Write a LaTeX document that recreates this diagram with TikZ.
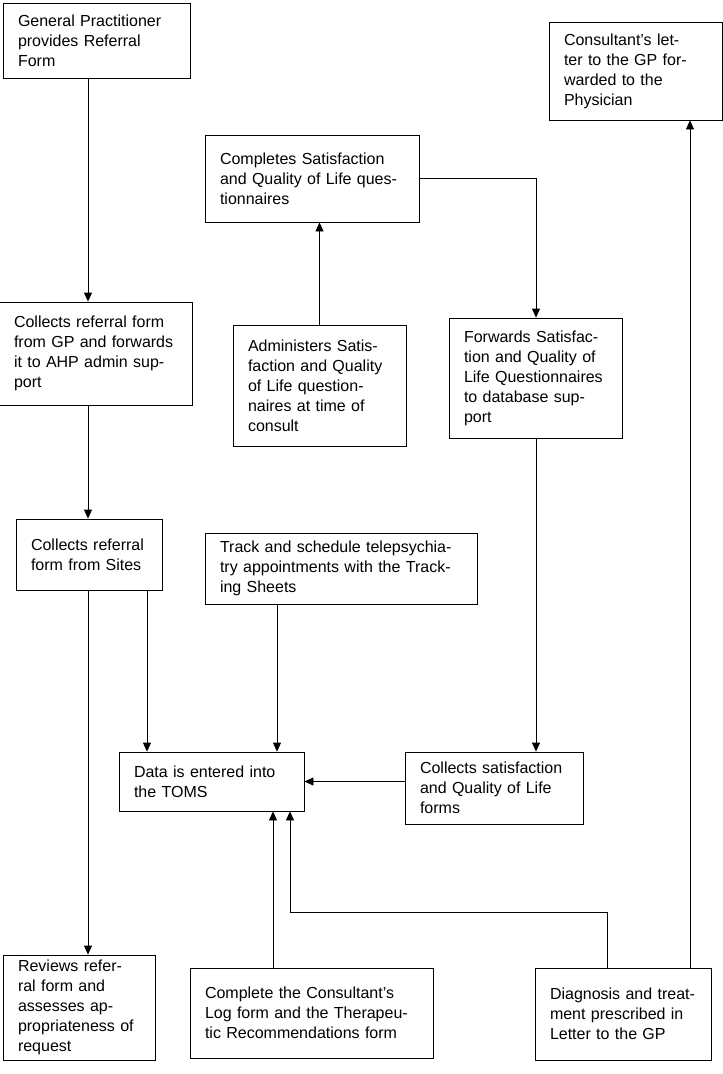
\documentclass[tikz,border=0pt]{standalone}
\usepackage{fontspec}
\setmainfont{Liberation Sans}
\usetikzlibrary{arrows.meta}
\tikzset{
  stage/.style={draw, thick, rectangle, align=left, inner xsep=15pt, inner ysep=2pt,
    font=\fontsize{16}{20}\selectfont},
  arr/.style={thick, -{Triangle[length=9pt,width=8pt]}}
}
\begin{document}
\begin{tikzpicture}[x=1pt,y=-1pt]
  \useasboundingbox (0,0) rectangle (723,1074);
  % boxes
  \node[stage, text width=157, minimum height=75] (gp) at (96.5,40.5) {General Practitioner provides Referral Form};
  \node[stage, text width=143, minimum height=98] (letter) at (635.5,71) {Consultant’s letter to the GP forwarded to the Physician};
  \node[stage, text width=184, minimum height=87] (compl) at (312,178.5) {Completes Satisfaction and Quality of Life questionnaires};
  \node[stage, text width=163, minimum height=103] (collgp) at (95.5,353.5) {Collects referral form from GP and forwards it to AHP admin support};
  \node[stage, text width=143, minimum height=121] (admin) at (319.5,385.5) {Administers Satisfaction and Quality of Life questionnaires at time of consult};
  \node[stage, text width=143, minimum height=120] (fwd) at (535.5,378) {Forwards Satisfaction and Quality of Life Questionnaires to database support};
  \node[stage, text width=116, minimum height=71] (sites) at (89,554.5) {Collects referral form from Sites};
  \node[stage, text width=242, minimum height=71] (track) at (341,568.5) {Track and schedule telepsychiatry appointments with the Tracking Sheets};
  \node[stage, text width=155, minimum height=59] (data) at (211.5,781.5) {Data is entered into the TOMS};
  \node[stage, text width=148, minimum height=72] (collsat) at (494,788) {Collects satisfaction and Quality of Life forms};
  \node[stage, text width=122, minimum height=105] (rev) at (79,1007.5) {Reviews referral form and assesses appropriateness of request};
  \node[stage, text width=213, minimum height=90] (clog) at (311.5,1013) {Complete the Consultant’s Log form and the Therapeutic Recommendations form};
  \node[stage, text width=146, minimum height=92] (diag) at (623,1014) {Diagnosis and treatment prescribed in Letter to the GP};
  % helper columns
  \coordinate (xa) at (88,0);
  \coordinate (xb) at (147,0);
  \coordinate (xc) at (277,0);
  \coordinate (xd) at (273,0);
  \coordinate (xe) at (290,0);
  \coordinate (xf) at (536,0);
  \coordinate (xg) at (607,0);
  \coordinate (xh) at (690,0);
  \coordinate (yk) at (0,912);
  % connectors
  \draw[arr] (gp.south -| xa) -- (collgp.north -| xa);
  \draw[arr] (collgp.south -| xa) -- (sites.north -| xa);
  \draw[arr] (sites.south -| xa) -- (rev.north -| xa);
  \draw[arr] (sites.south -| xb) -- (data.north -| xb);
  \draw[arr] (track.south -| xc) -- (data.north -| xc);
  \draw[arr] (admin.north) -- (compl.south -| admin.north);
  \draw[arr] (compl.east) -| (fwd.north -| xf);
  \draw[arr] (fwd.south -| xf) -- (collsat.north -| xf);
  \draw[arr] (collsat.west |- data.east) -- (data.east);
  \draw[arr] (clog.north -| xd) -- (data.south -| xd);
  \draw[arr] (diag.north -| xg) -- (xg |- yk) -- (xe |- yk) -- (data.south -| xe);
  \draw[arr] (diag.north -| xh) -- (letter.south -| xh);
\end{tikzpicture}
\end{document}
